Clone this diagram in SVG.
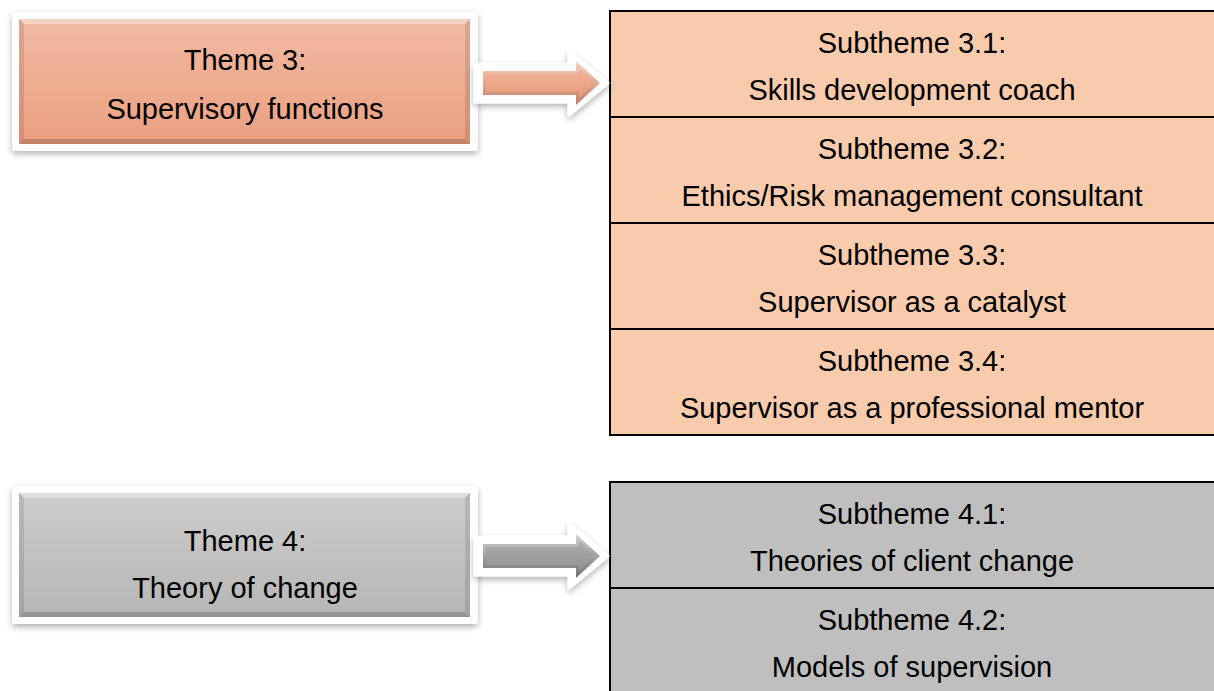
<svg xmlns="http://www.w3.org/2000/svg" width="1214" height="691" viewBox="0 0 1214 691">
  <style>
    .t { font-family: "Liberation Sans", Arial, sans-serif; font-size: 29px; fill: #000; text-anchor: middle; }
    .frame { fill: #fff; filter: url(#sh); }
    .cell { stroke: #000; stroke-width: 2; }
    .o { fill: #F8CBAD; }
    .g { fill: #BFBFBF; }
    .hl { fill: #fff; opacity: 0.35; }
    .dk { fill: #000; opacity: 0.18; }
    .dk2 { fill: #000; opacity: 0.1; }
  </style>
  <defs>
    <filter id="sh" x="-10%" y="-20%" width="120%" height="150%">
      <feDropShadow dx="0" dy="3" stdDeviation="3" flood-color="#000" flood-opacity="0.3"/>
    </filter>
    <linearGradient id="gO" x1="0" y1="0" x2="0" y2="1">
      <stop offset="0" stop-color="#F1BBA3"/>
      <stop offset="1" stop-color="#EB9F80"/>
    </linearGradient>
    <linearGradient id="gG" x1="0" y1="0" x2="0" y2="1">
      <stop offset="0" stop-color="#CDCDCD"/>
      <stop offset="1" stop-color="#B6B6B6"/>
    </linearGradient>
    <linearGradient id="aOe" x1="0" y1="0" x2="0" y2="1">
      <stop offset="0" stop-color="#FAD3C0"/>
      <stop offset="1" stop-color="#C27A62"/>
    </linearGradient>
    <linearGradient id="aOi" x1="0" y1="0" x2="0" y2="1">
      <stop offset="0" stop-color="#F2B497"/>
      <stop offset="1" stop-color="#E69A7B"/>
    </linearGradient>
    <linearGradient id="aGe" x1="0" y1="0" x2="0" y2="1">
      <stop offset="0" stop-color="#D2D2D2"/>
      <stop offset="1" stop-color="#707070"/>
    </linearGradient>
    <linearGradient id="aGi" x1="0" y1="0" x2="0" y2="1">
      <stop offset="0" stop-color="#ABABAB"/>
      <stop offset="1" stop-color="#949494"/>
    </linearGradient>
    <polygon id="arrOut" points="475,64 569,64 569,51 608,83 569,115 569,102 475,102"/>
    <polygon id="arrEdge" points="483,71 576,71 576,61 600,83 576,105 576,95 483,95"/>
    <polygon id="arrIn" points="486,74 579,74 579,68 594,83 579,98 579,92 486,92"/>
  </defs>

  <rect width="1214" height="691" fill="#fff"/>

  <!-- Theme 3 -->
  <g id="theme3">
    <rect class="frame" x="12" y="12" width="466" height="139" rx="4"/>
    <rect x="19" y="19" width="451" height="125" fill="url(#gO)"/>
    <polygon class="hl" points="19,19 470,19 465,24 24,24"/>
    <polygon class="dk2" points="19,19 24,24 24,139 19,144"/>
    <polygon class="dk" points="19,144 24,139 465,139 470,144"/>
    <polygon class="dk2" points="470,19 470,144 465,139 465,24"/>
    <text class="t" x="245" y="70">Theme 3:</text>
    <text class="t" x="245" y="119">Supervisory functions</text>
  </g>

  <!-- Subthemes 3.x -->
  <g id="sub3-1">
    <rect class="cell o" x="610" y="11" width="606" height="106"/>
    <text class="t" x="912" y="53">Subtheme 3.1:</text>
    <text class="t" x="912" y="100">Skills development coach</text>
  </g>
  <g id="sub3-2">
    <rect class="cell o" x="610" y="117" width="606" height="106"/>
    <text class="t" x="912" y="159">Subtheme 3.2:</text>
    <text class="t" x="912" y="206">Ethics/Risk management consultant</text>
  </g>
  <g id="sub3-3">
    <rect class="cell o" x="610" y="223" width="606" height="106"/>
    <text class="t" x="912" y="265">Subtheme 3.3:</text>
    <text class="t" x="912" y="312">Supervisor as a catalyst</text>
  </g>
  <g id="sub3-4">
    <rect class="cell o" x="610" y="329" width="606" height="106"/>
    <text class="t" x="912" y="371">Subtheme 3.4:</text>
    <text class="t" x="912" y="418">Supervisor as a professional mentor</text>
  </g>

  <!-- Theme 4 -->
  <g id="theme4">
    <rect class="frame" x="12" y="486" width="466" height="138" rx="4"/>
    <rect x="19" y="493" width="451" height="124" fill="url(#gG)"/>
    <polygon class="hl" points="19,493 470,493 465,498 24,498"/>
    <polygon class="dk2" points="19,493 24,498 24,612 19,617"/>
    <polygon class="dk" points="19,617 24,612 465,612 470,617"/>
    <polygon class="dk2" points="470,493 470,617 465,612 465,498"/>
    <text class="t" x="245" y="551">Theme 4:</text>
    <text class="t" x="245" y="598">Theory of change</text>
  </g>

  <!-- Subthemes 4.x -->
  <g id="sub4-1">
    <rect class="cell g" x="610" y="482" width="606" height="106"/>
    <text class="t" x="912" y="524">Subtheme 4.1:</text>
    <text class="t" x="912" y="571">Theories of client change</text>
  </g>
  <g id="sub4-2">
    <rect class="cell g" x="610" y="588" width="606" height="106"/>
    <text class="t" x="912" y="630">Subtheme 4.2:</text>
    <text class="t" x="912" y="677">Models of supervision</text>
  </g>

  <!-- Connectors -->
  <g id="connectors">
    <g id="arrow3">
      <use href="#arrOut" fill="#fff" stroke="#fff" stroke-width="3" stroke-linejoin="round" filter="url(#sh)"/>
      <use href="#arrEdge" fill="url(#aOe)"/>
      <use href="#arrIn" fill="url(#aOi)"/>
    </g>
    <g id="arrow4" transform="translate(0,473)">
      <use href="#arrOut" fill="#fff" stroke="#fff" stroke-width="3" stroke-linejoin="round" filter="url(#sh)"/>
      <use href="#arrEdge" fill="url(#aGe)"/>
      <use href="#arrIn" fill="url(#aGi)"/>
    </g>
  </g>
</svg>
